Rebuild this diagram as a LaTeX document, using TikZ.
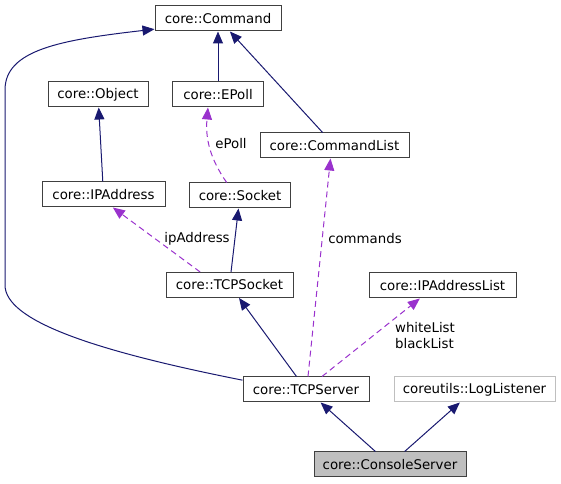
\documentclass[tikz,border=0pt]{standalone}
\usepackage{fontspec}
\setmainfont{DejaVu Sans}
\usetikzlibrary{arrows.meta}
\definecolor{edgeblue}{HTML}{191970}
\definecolor{edgepurple}{HTML}{9A32CD}
\begin{document}
\begin{tikzpicture}[x=0.75pt,y=-0.75pt]
                    \tikzset{every node/.style={font=\fontsize{10}{12}\selectfont}}
                    \tikzset{cls/.style={draw=black!75, line width=0.75pt, fill=white, minimum height=18.75pt, inner sep=1pt}}
                    \tikzset{inh/.style={edgeblue, line width=0.75pt, -{Triangle[length=9pt,width=7.5pt]}}}
                    \tikzset{usage/.style={edgepurple, line width=0.75pt, dash pattern=on 4.5pt off 3pt, -{Triangle[length=9pt,width=7.5pt]}}}
                    \useasboundingbox (0,0) rectangle (561,484);
                    % classes
                    \node[cls, minimum width=94.5pt] (command) at (218,18.5) {core::Command};
                    \node[cls, minimum width=75pt] (object) at (98,94.5) {core::Object};
                    \node[cls, minimum width=68.25pt] (epoll) at (218,94.5) {core::EPoll};
                    \node[cls, minimum width=111.75pt] (commandlist) at (334.5,145.5) {core::CommandList};
                    \node[cls, minimum width=92.25pt] (ipaddress) at (103.5,194.5) {core::IPAddress};
                    \node[cls, minimum width=75.75pt] (socket) at (240,195.5) {core::Socket};
                    \node[cls, minimum width=95.25pt] (tcpsocket) at (229.5,285) {core::TCPSocket};
                    \node[cls, minimum width=110.25pt] (ipaddresslist) at (442.5,285.5) {core::IPAddressList};
                    \node[cls, minimum width=94.5pt] (tcpserver) at (306,389.5) {core::TCPServer};
                    \node[cls, draw=black!25, minimum width=120.75pt] (loglistener) at (474.5,389.5) {coreutils::LogListener};
                    \node[cls, fill=black!25, minimum width=114pt] (consoleserver) at (390,464.5) {core::ConsoleServer};
                    % inheritance
                    \draw[inh] (epoll) -- (command);
                    \draw[inh] (commandlist) -- (command);
                    \draw[inh] (ipaddress) -- (object);
                    \draw[inh] (tcpsocket) -- (socket);
                    \draw[inh] (tcpserver) -- (tcpsocket);
                    \draw[inh] (consoleserver) -- (tcpserver);
                    \draw[inh] (consoleserver) -- (loglistener);
                    \draw[inh] ([yshift=7pt]tcpserver.west) .. controls (90,350) and (5,320) .. (5,285)
                        -- (5,90) .. controls (5,50) and (60,40) .. ([yshift=-8pt]command.west);
                    % members
                    \draw[usage] ([xshift=-10pt]socket.north) to[out=125, in=-95] ([xshift=-7.5pt]epoll.south);
                    \draw[usage] ([xshift=-22pt]tcpsocket.north) -- ([xshift=7pt]ipaddress.south);
                    \draw[usage] ([xshift=1.5pt]tcpserver.north) -- ([xshift=-3pt]commandlist.south);
                    \draw[usage] ([xshift=12pt]tcpserver.north) -- ([xshift=-17pt]ipaddresslist.south);
                    % labels
                    \node (lbl_epoll) at (231,144) {ePoll};
                    \node (lbl_ipaddress) at (197,239) {ipAddress};
                    \node (lbl_commands) at (365,239) {commands};
                    \node[align=left, inner sep=0pt] (lbl_lists) at (425,336) {whiteList\\blackList};
                    \end{tikzpicture}
\end{document}
